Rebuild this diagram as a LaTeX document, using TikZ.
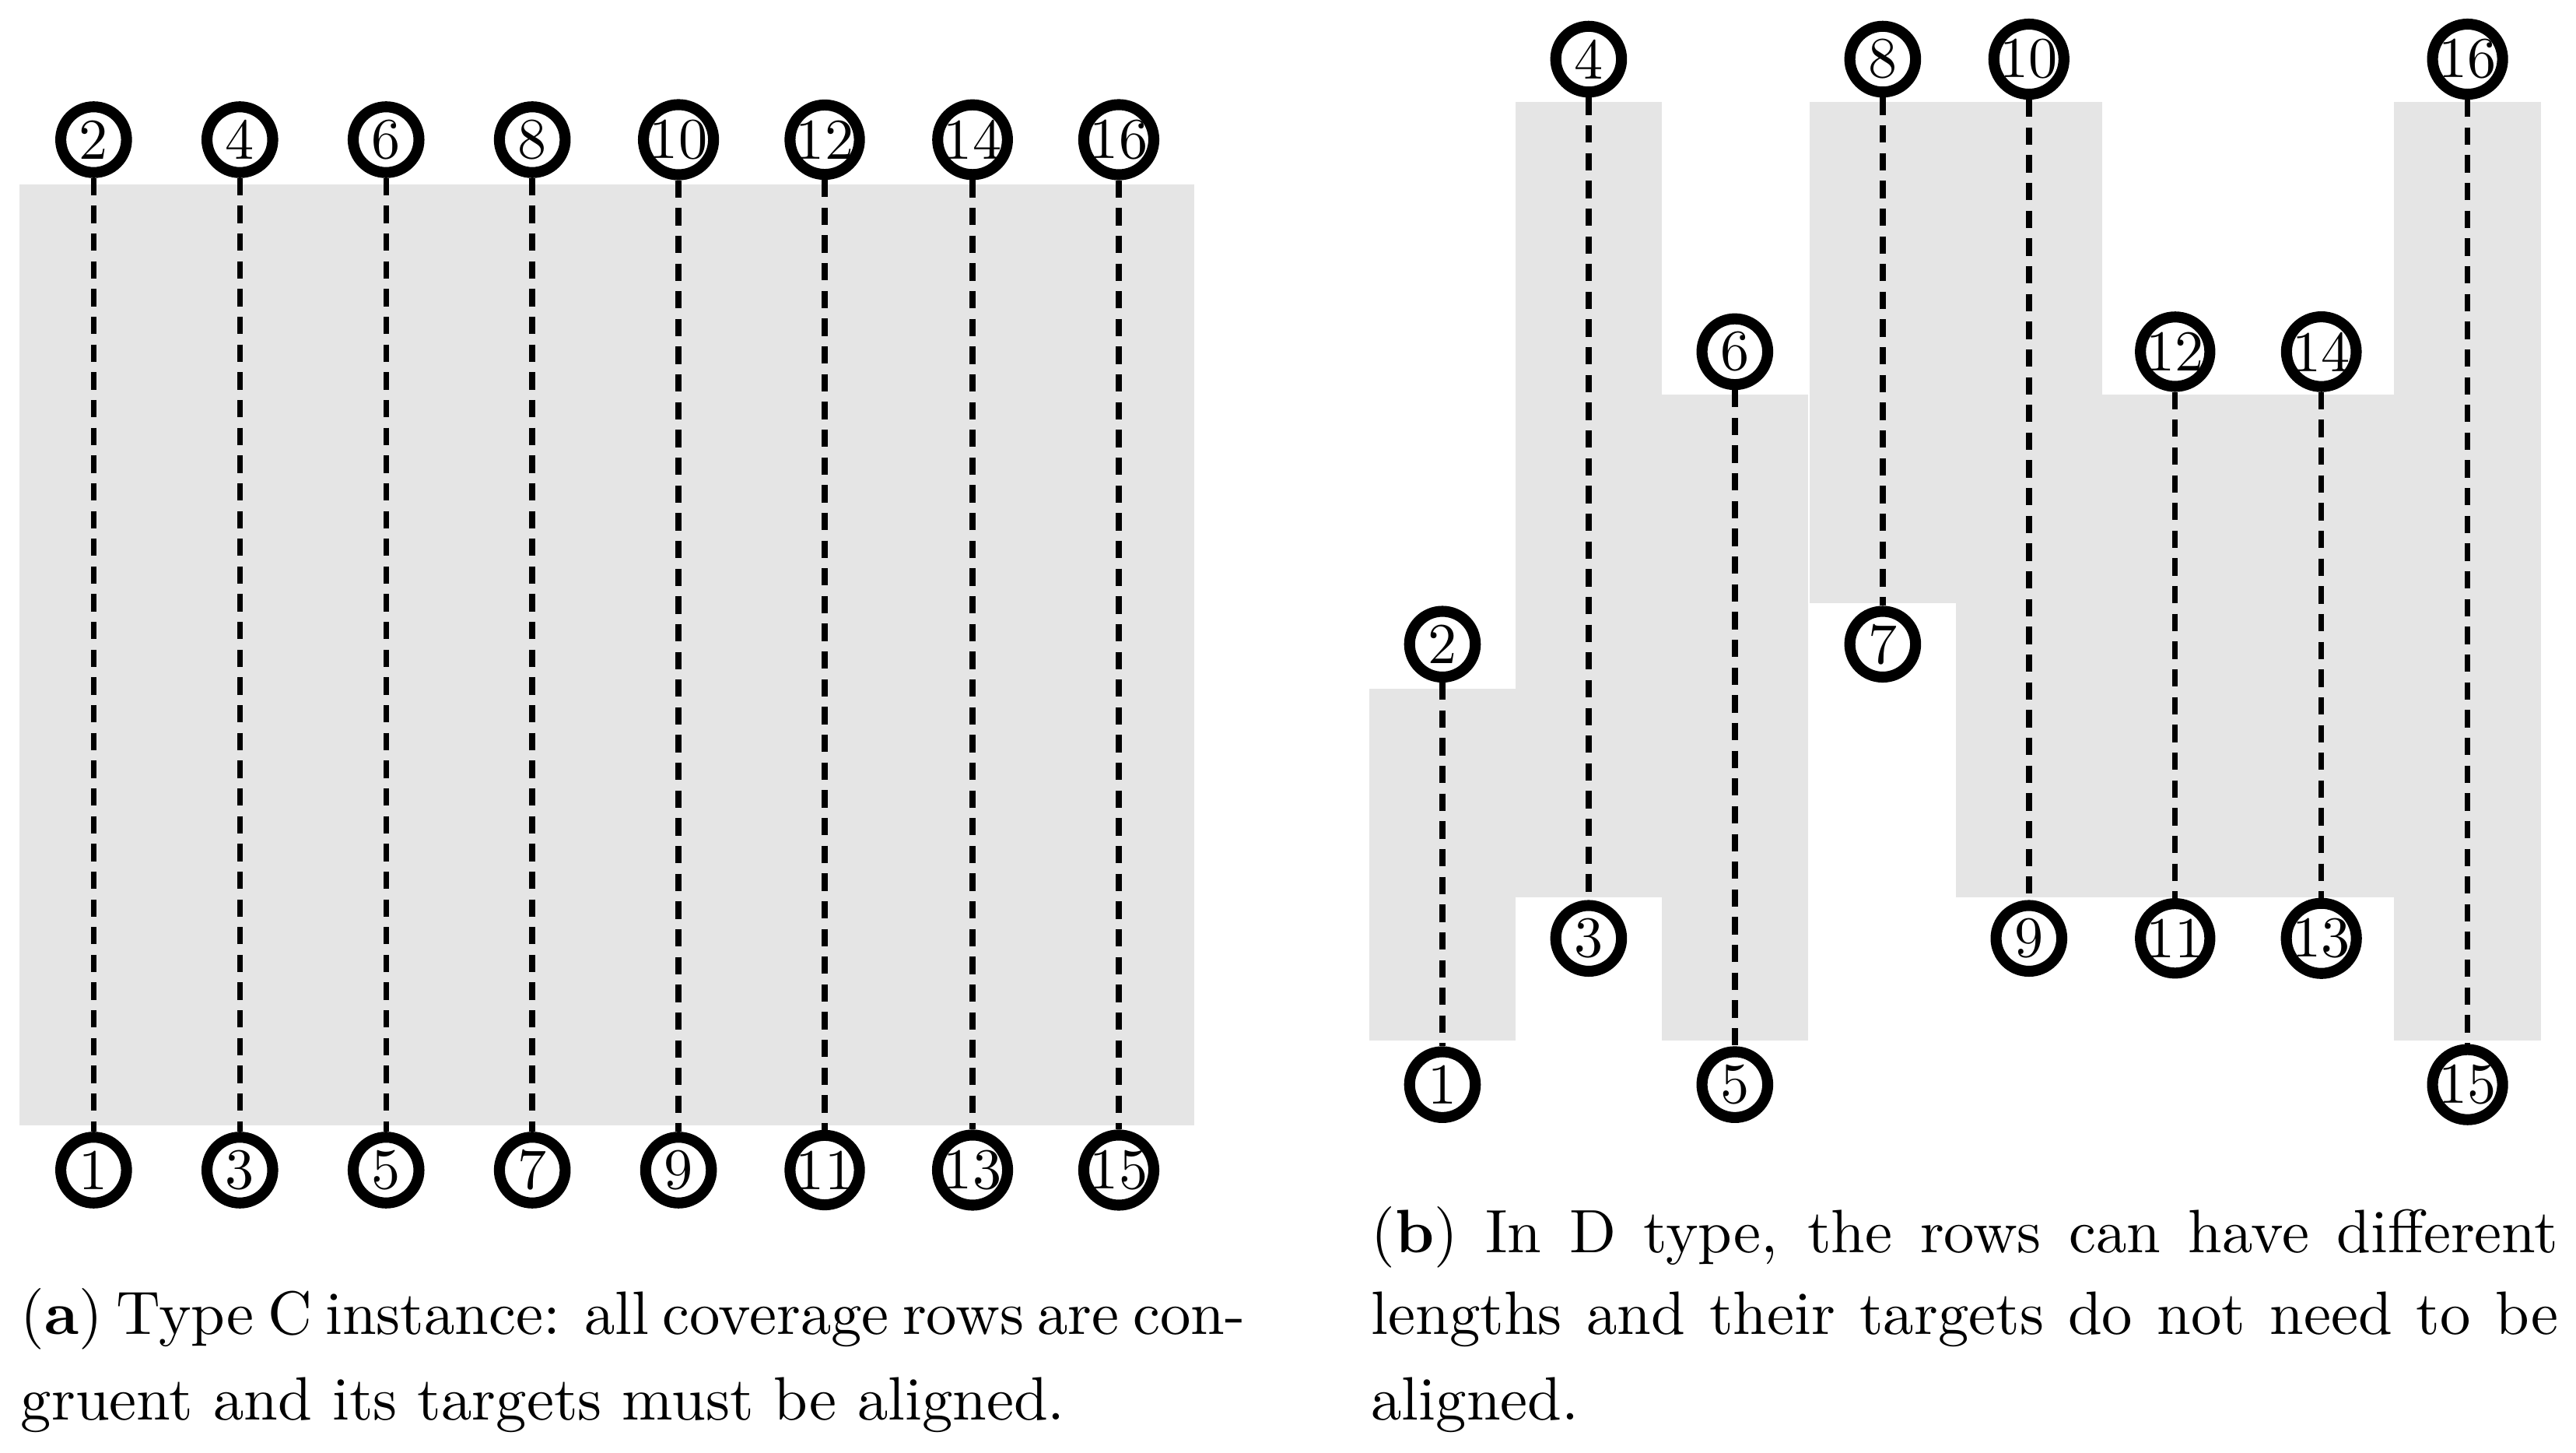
\documentclass[tikz,border=0pt]{standalone}
\begin{document}
\begin{tikzpicture}[x=0.01cm,y=-0.01cm,
  tg/.style={circle,draw=black,line width=1.9pt,fill=white,minimum size=0.4cm,inner sep=0pt,font=\fontsize{10}{10}\selectfont},
  dl/.style={line width=1pt,dash pattern=on 3pt off 1.8pt},
  cov/.style={fill=black!10,draw=none},
  captxt/.style={anchor=base west,inner sep=0pt,font=\fontsize{10.6}{14}\selectfont}]
\useasboundingbox (0,0) rectangle (1568,884);
% left panel
\fill[cov] (12,112) rectangle (727,685);
\foreach \i/\x in {1/57,2/146,3/235,4/324,5/413,6/502,7/592,8/681}{
  \pgfmathtruncatemacro\t{2*\i}\pgfmathtruncatemacro\b{2*\i-1}
  \node[tg] (a\t) at (\x,85) {\t};
  \node[tg] (a\b) at (\x,712) {\b};
  \draw[dl] (a\t) -- (a\b);
}
% right panel
\foreach \x/\ya/\yb in {878/419/633, 967/62/546, 1056/240/633, 1146/62/367, 1235/62/546, 1324/240/546, 1413/240/546, 1502/62/633}
  \fill[cov] (\x-44.6,\ya) rectangle (\x+44.6,\yb);
\foreach \x/\t/\yt/\b/\yb in {878/2/392/1/660, 967/4/36/3/571, 1056/6/214/5/660, 1146/8/36/7/392, 1235/10/36/9/571, 1324/12/214/11/571, 1413/14/214/13/571, 1502/16/36/15/660}{
  \node[tg] (b\t) at (\x,\yt) {\t};
  \node[tg] (b\b) at (\x,\yb) {\b};
  \draw[dl] (b\t) -- (b\b);
}
% captions
\node[captxt] (ca1) at (12,812) {\makebox[7.28cm][s]{(\textbf{a}) Type C instance: all coverage rows are con-}};
\node[captxt] (ca2) at (12,864) {gruent and its targets must be aligned.};
\node[captxt] (cb1) at (834,762) {\makebox[7.22cm][s]{(\textbf{b}) In D type, the rows can have different}};
\node[captxt] (cb2) at (834,812) {\makebox[7.22cm][s]{lengths and their targets do not need to be}};
\node[captxt] (cb3) at (834,864) {aligned.};
\end{tikzpicture}
\end{document}
